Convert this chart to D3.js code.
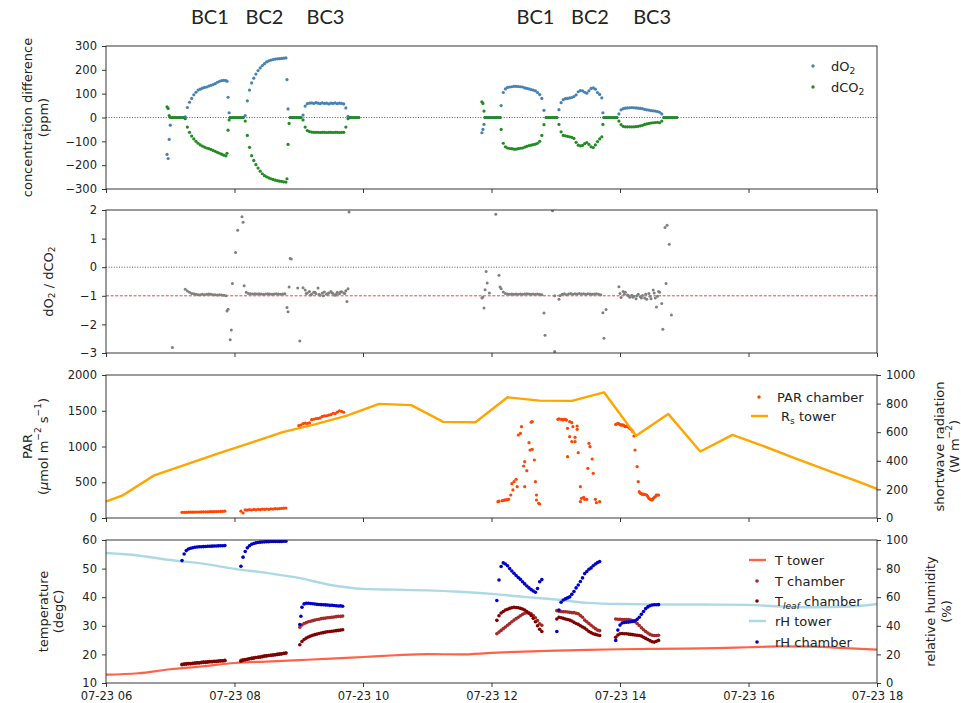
<!DOCTYPE html>
<html>
<head>
<meta charset="utf-8">
<script src="https://cdn.jsdelivr.net/npm/d3@7"></script>
<style>
  body { margin: 0; background: #fff; }
  text { font-family: "DejaVu Sans", sans-serif; fill: #222; }
</style>
</head>
<body>
<script>
// segments are [start "HH:MM", step in minutes, values]
var dO2 = [
  ["06:57", 1, [-155, -172, -92, -32]],
  ["07:01", 2, [0, 0, 0, 0, 0, 0, 0]],
  ["07:14", 2, [3, 42, 64, 80, 95, 106, 115, 119, 123, 126, 128, 132, 135, 138, 142, 148, 152, 155, 156, 155]],
  ["07:53", 1, [152, 85, 20]],
  ["07:56", 2, [0, 0, 0, 0, 0, 0, 0]],
  ["08:10", 2, [8, 70, 115, 145, 165, 182, 197, 208, 218, 226, 233, 238, 241, 243, 245, 246, 247, 248, 249, 250]],
  ["08:49", 1, [159, 36]],
  ["08:52", 2, [0, 0, 0, 0, 0, 0]],
  ["09:04", 2, [10, 48, 58, 60, 61, 59, 62, 60, 58, 61, 59, 60, 57, 60, 59, 61, 58, 60, 59, 57, 40]],
  ["09:46", 2, [5, 0, 0, 0, 0, 0]],
  ["11:51", 1, [-64, -50, -29]],
  ["11:54", 2, [0, 0, 0, 0, 0, 0, 0, 0]],
  ["12:09", 2, [50, 105, 120, 126, 128, 129, 131, 131, 130, 129, 128, 124, 122, 120, 117, 115, 112, 105, 96, 80, 30]],
  ["12:51", 2, [0, 0, 0, 0, 0, 0]],
  ["13:03", 2, [33, 62, 75, 79, 80, 82, 84, 88, 95, 108, 113, 112, 106, 102, 112, 122, 124, 119, 105, 97, 82]],
  ["13:44", 1, [20]],
  ["13:45", 2, [0, 0, 0, 0, 0, 0, 0]],
  ["13:59", 2, [15, 32, 37, 39, 40, 41, 42, 41, 40, 39, 38, 37, 34, 32, 31, 29, 28, 27, 25, 22, 15]],
  ["14:41", 2, [0, 0, 0, 0, 0, 0, 0]]
];
var dCO2 = [
  ["06:57", 1, [45, 38, 8]],
  ["07:00", 2, [0, 0, 0, 0, 0, 0, 0]],
  ["07:14", 2, [-5, -40, -62, -78, -90, -100, -108, -115, -120, -124, -128, -131, -134, -138, -142, -146, -150, -154, -158, -161]],
  ["07:53", 1, [-150, -53, -10]],
  ["07:56", 2, [0, 0, 0, 0, 0, 0, 0]],
  ["08:10", 2, [-15, -75, -125, -160, -180, -198, -212, -225, -236, -244, -249, -253, -257, -260, -263, -265, -267, -268, -270, -271]],
  ["08:49", 1, [-257, -113, -25]],
  ["08:52", 2, [0, 0, 0, 0, 0, 0]],
  ["09:04", 2, [-10, -40, -55, -59, -61, -62, -62, -62, -63, -62, -62, -63, -62, -62, -63, -62, -62, -63, -62, -62, -40]],
  ["09:46", 2, [-5, 0, 0, 0, 0, 0]],
  ["11:51", 1, [66, 59, 27]],
  ["11:54", 2, [0, 0, 0, 0, 0, 0, 0, 0]],
  ["12:09", 2, [-50, -108, -123, -128, -130, -131, -133, -133, -131, -129, -128, -124, -121, -118, -116, -114, -112, -108, -100, -75, -30]],
  ["12:51", 2, [0, 0, 0, 0, 0, 0]],
  ["13:03", 2, [-29, -60, -75, -77, -79, -81, -83, -88, -104, -116, -119, -117, -110, -105, -113, -123, -126, -115, -101, -90, -81]],
  ["13:44", 1, [-29]],
  ["13:45", 2, [0, 0, 0, 0, 0, 0, 0]],
  ["13:59", 2, [-15, -30, -37, -39, -39, -39, -39, -39, -38, -37, -35, -33, -29, -27, -25, -23, -22, -21, -20, -22, -15]],
  ["14:41", 2, [0, 0, 0, 0, 0, 0, 0]]
];

var ratioRuns = [
  ["07:14", 2, [-0.77, -0.83, -0.88, -0.92, -0.93, -0.95, -0.96, -0.96, -0.95, -0.96, -0.95, -0.94, -0.95, -0.96, -0.96, -0.97, -0.96, -0.97, -0.98, -1.0]],
  ["08:11", 2, [-0.88, -0.92, -0.93, -0.94, -0.93, -0.94, -0.93, -0.94, -0.95, -0.94, -0.93, -0.94, -0.95, -0.94, -0.93, -0.94, -0.95, -0.94, -0.93]],
  ["09:06", 2, [-0.80, -0.90, -0.85, -0.95, -0.88, -0.92, -0.73, -0.98, -0.90, -0.87, -0.95, -0.90, -0.85, -0.92, -0.98, -0.88, -0.93, -0.86, -0.90, -0.82]],
  ["09:07", 4, [-0.92, -0.97, -0.88, -0.95, -1.0, -0.93, -0.90, -0.95, -0.87, -0.92]],
  ["12:11", 2, [-0.87, -0.92, -0.94, -0.95, -0.94, -0.95, -0.94, -0.95, -0.94, -0.95, -0.94, -0.93, -0.94, -0.95, -0.94, -0.95, -0.94, -0.95, -0.96]],
  ["13:04", 2, [-0.99, -0.95, -0.93, -0.96, -0.94, -0.92, -0.95, -0.93, -0.94, -0.92, -0.94, -0.93, -0.95, -0.93, -0.94, -0.95, -0.94, -0.93, -0.95, -0.96]],
  ["13:59", 2, [-0.68, -1.06, -0.85, -0.88, -0.97, -1.05, -0.98, -1.02, -1.10, -0.95, -1.03, -0.99, -1.08, -1.12, -0.92, -1.10, -0.80, -1.08, -1.02, -0.88, -1.27]],
  ["14:00", 4, [-0.92, -0.95, -1.0, -1.05, -1.0, -1.08, -0.95, -1.02, -0.90, -0.85]]
];
var ratioOutliers = [
  ["07:02", -2.81], ["07:53", -1.53], ["07:54", -1.47], ["07:56", -2.54], ["07:57", -2.2], ["07:58", -0.57],
  ["08:01", 0.51], ["08:03", 1.29], ["08:07", 1.76], ["08:08", 1.57], ["08:09", -0.65],
  ["08:49", -1.41], ["08:50", -1.56], ["08:51", -0.69], ["08:52", 0.30], ["08:53", 0.29], ["08:59", -0.73],
  ["09:01", -2.58], ["09:04", -0.72], ["09:45", -1.2], ["09:46", -0.75], ["09:47", 1.93],
  ["11:51", -1.08], ["11:52", -1.04], ["11:53", -1.43], ["11:54", -0.79], ["11:55", -0.15], ["11:56", -0.55],
  ["11:58", -0.90], ["12:04", 1.85], ["12:07", -0.28], ["12:08", -0.69], ["12:09", -0.75],
  ["12:49", -1.6], ["12:50", -2.38], ["12:57", 1.97], ["12:59", -1.0], ["12:59", -2.95], ["13:03", -1.12],
  ["13:44", -1.59], ["13:45", -2.48], ["13:47", -1.48],
  ["14:34", -1.39], ["14:40", -2.17], ["14:42", 1.39], ["14:43", -0.57], ["14:44", 1.47], ["14:46", 0.80], ["14:48", -1.67]
];

var parRuns = [
  ["07:11", 2, [79, 80, 80, 81, 82, 82, 83, 84, 84, 85, 86, 86, 87, 88, 88, 89, 90, 91, 92, 93, 95]],
  ["08:06", 2, [95, 70, 115, 110, 118, 112, 120, 115, 122, 118, 125, 120, 126, 122, 128, 125, 130, 128, 132, 135, 138, 140]],
  ["09:00", 2, [1293, 1300, 1320, 1326, 1322, 1330, 1375, 1381, 1390, 1393, 1400, 1420, 1428, 1430, 1440, 1445, 1465, 1460, 1480, 1500, 1490, 1479]]
];
var parPoints = [
  ["12:06", 228], ["12:07", 235], ["12:10", 242], ["12:11", 245], ["12:12", 250], ["12:13", 252], ["12:14", 255],
  ["12:15", 258], ["12:16", 261], ["12:18", 322], ["12:19", 480], ["12:20", 392], ["12:21", 508], ["12:23", 541],
  ["12:24", 438], ["12:25", 1161], ["12:27", 1184], ["12:28", 1277], ["12:30", 727], ["12:31", 788], ["12:31", 438],
  ["12:33", 662], ["12:35", 1053], ["12:36", 951], ["12:37", 1340], ["12:38", 1347], ["12:38", 960], ["12:40", 811],
  ["12:41", 508], ["12:42", 322], ["12:42", 252], ["12:44", 206], ["12:45", 196],
  ["13:02", 1380], ["13:03", 1385], ["13:05", 1380], ["13:06", 1375], ["13:07", 1371], ["13:08", 1378], ["13:09", 1380],
  ["13:10", 1370], ["13:11", 1254], ["13:11", 857], ["13:13", 1137], ["13:13", 1347], ["13:15", 1333], ["13:15", 1067],
  ["13:16", 1277], ["13:18", 1067], ["13:18", 1128], ["13:20", 1287], ["13:20", 1240], ["13:21", 913], ["13:23", 438],
  ["13:23", 228], ["13:24", 275], ["13:26", 289], ["13:27", 261], ["13:29", 261], ["13:30", 695], ["13:31", 1044],
  ["13:32", 997], ["13:34", 825], ["13:35", 625], ["13:37", 261], ["13:38", 214], ["13:41", 228],
  ["13:56", 1310], ["13:57", 1315], ["13:58", 1324], ["13:59", 1318], ["14:00", 1305], ["14:01", 1300], ["14:02", 1302],
  ["14:03", 1300], ["14:04", 1290], ["14:05", 1277], ["14:06", 1282], ["14:07", 1287], ["14:08", 1270], ["14:09", 1254],
  ["14:10", 1245], ["14:11", 1231], ["14:12", 1207], ["14:13", 1147], ["14:14", 951], ["14:16", 718], ["14:17", 508],
  ["14:18", 368], ["14:19", 345], ["14:20", 340], ["14:21", 330], ["14:22", 336], ["14:23", 330], ["14:24", 325],
  ["14:25", 322], ["14:26", 300], ["14:27", 275], ["14:28", 265], ["14:29", 258], ["14:30", 252], ["14:31", 270],
  ["14:32", 289], ["14:33", 300], ["14:34", 322], ["14:35", 320], ["14:36", 322]
];
var rsTower = [
  ["05:45", 30, [76, 156, 298, 375, 452, 525, 600, 655, 716, 798, 789, 672, 670, 844, 821, 819, 879, 575, 728, 465, 581, 500, 414, 330, 247, 160]]
];

var tTower = [
  ["06:00", 30, [12.9, 13.4, 14.8, 15.8, 17.0, 17.5, 18.0, 18.5, 19.1, 19.7, 20.1, 20.0, 20.5, 21.0, 21.3, 21.6, 21.8, 21.9, 22.0, 22.2, 22.5, 22.8, 22.7, 22.2, 21.7]]
];
var rhTower = [
  ["06:00", 30, [90.9, 89.2, 86.0, 83.5, 79.8, 77.0, 73.5, 68.5, 65.8, 65.3, 64.8, 63.8, 62.3, 60.2, 58.4, 56.0, 55.2, 55.0, 54.9, 54.8, 54.6, 53.5, 53.0, 53.3, 55.3]]
];
var tChamber = [
  ["07:11", 2, [16.4, 16.5, 16.6, 16.7, 16.7, 16.8, 16.9, 17.0, 17.0, 17.1, 17.2, 17.2, 17.3, 17.4, 17.4, 17.5, 17.5, 17.6, 17.7, 17.7, 17.8]],
  ["08:06", 2, [17.9, 18.0, 18.2, 18.3, 18.5, 18.6, 18.8, 18.9, 19.0, 19.1, 19.3, 19.4, 19.5, 19.6, 19.7, 19.8, 19.9, 20.0, 20.1, 20.2, 20.3, 20.5]],
  ["09:01", 2, [29.5, 30.3, 30.8, 31.1, 31.4, 31.6, 31.8, 32.0, 32.2, 32.3, 32.5, 32.6, 32.7, 32.8, 32.9, 33.0, 33.1, 33.2, 33.3, 33.3, 33.4]],
  ["12:05", 2, [27.2, 27.8, 28.4, 29.0, 29.6, 30.2, 30.8, 31.4, 32.0, 32.5, 33.0, 33.5, 34.0, 34.4, 34.6, 34.5, 34.2, 33.6, 32.8, 31.8, 30.7, 30.2]],
  ["13:01", 2, [35.3, 35.1, 35.0, 34.9, 34.9, 34.8, 34.7, 34.6, 34.6, 34.4, 34.2, 33.6, 33.0, 32.0, 31.4, 30.8, 30.2, 29.6, 29.0, 28.5, 28.3]],
  ["13:56", 2, [32.4, 32.3, 32.3, 32.2, 32.2, 32.2, 32.2, 32.0, 31.8, 31.4, 30.8, 30.1, 29.3, 28.6, 28.0, 27.5, 27.0, 26.7, 26.6, 26.6, 26.7]]
];
var tLeaf = [
  ["07:11", 2, [16.5, 16.6, 16.7, 16.8, 16.8, 16.9, 17.0, 17.1, 17.1, 17.2, 17.3, 17.3, 17.4, 17.5, 17.5, 17.6, 17.6, 17.7, 17.8, 17.8, 17.9]],
  ["08:06", 2, [17.6, 18.0, 18.1, 18.3, 18.5, 18.6, 18.7, 18.9, 19.0, 19.1, 19.2, 19.4, 19.5, 19.6, 19.7, 19.8, 19.9, 20.0, 20.1, 20.2, 20.4, 20.5]],
  ["09:01", 2, [23.4, 24.5, 25.2, 25.7, 26.1, 26.4, 26.7, 26.9, 27.1, 27.3, 27.5, 27.6, 27.8, 27.9, 28.0, 28.1, 28.2, 28.3, 28.4, 28.5, 28.6]],
  ["12:05", 2, [31.9, 33.5, 34.5, 35.0, 35.5, 35.8, 36.1, 36.3, 36.5, 36.4, 36.3, 36.1, 35.9, 35.5, 35.0, 34.4, 33.6, 32.6, 31.4, 30.0, 28.8, 28.0]],
  ["13:01", 2, [32.4, 33.0, 32.8, 32.6, 32.4, 32.2, 32.0, 31.7, 31.2, 30.8, 30.5, 30.0, 29.6, 29.2, 28.6, 28.0, 27.6, 27.2, 27.0, 26.8, 26.6]],
  ["13:56", 2, [26.0, 26.8, 27.2, 27.3, 27.2, 27.2, 27.1, 27.0, 26.9, 26.8, 26.7, 26.6, 26.4, 26.0, 25.6, 25.2, 24.8, 24.4, 24.3, 24.6, 24.9]]
];
var rhChamber = [
  ["07:11", 2, [85.6, 90.2, 92.6, 93.7, 94.2, 94.6, 94.9, 95.1, 95.3, 95.3, 95.4, 95.5, 95.6, 95.6, 95.7, 95.8, 95.8, 95.9, 96.0, 96.0, 96.1]],
  ["08:06", 2, [81.6, 88, 92, 94.5, 96, 97, 97.6, 98, 98.3, 98.5, 98.6, 98.7, 98.8, 98.8, 98.9, 98.9, 99, 99, 99, 99, 99.1, 99.1]],
  ["09:01", 1, [40.9, 46.7]],
  ["09:03", 2, [53, 55.3, 55.8, 55.8, 55.6, 55.4, 55.2, 55, 54.9, 54.8, 54.7, 54.6, 54.5, 54.3, 54.4, 54.2, 54.0, 53.8, 53.9, 53.7]],
  ["12:05", 2, [57.7, 72, 81.5, 84, 83.2, 82, 80, 78.3, 76.8, 75.2, 73.8, 72.5, 70.8, 69.3, 67.8, 66.5, 65.3, 64.3, 63.5, 66, 70.8, 72.3]],
  ["13:01", 2, [36, 51, 56.5, 58, 58.8, 59.5, 60.2, 62, 64, 66.5, 68.5, 71, 73.5, 76.5, 78, 79.5, 80.5, 82, 83.2, 84.2, 84.9]],
  ["13:56", 2, [29.8, 37, 40.5, 42, 42.3, 42.5, 42.6, 42.8, 43, 43.5, 44.5, 46, 48, 50, 52, 53.2, 54, 54.5, 54.7, 54.7, 54.8]]
];

var timeTicks = ["06:00", "08:00", "10:00", "12:00", "14:00", "16:00", "18:00"];
var bcLabels = [["BC1", "07:37"], ["BC2", "08:28"], ["BC3", "09:25"], ["BC1", "12:41"], ["BC2", "13:32"], ["BC3", "14:30"]];

function parseT(s) {
  var p = s.split(":");
  return new Date(2019, 6, 23, +p[0], +p[1]);
}
function expand(segs) {
  var out = [];
  segs.forEach(function(s) {
    var t0 = parseT(s[0]).getTime();
    s[2].forEach(function(v, i) { out.push({t: new Date(t0 + i * s[1] * 60000), v: v}); });
  });
  return out;
}
function pairs(list) {
  return list.map(function(d) { return {t: parseT(d[0]), v: d[1]}; });
}

// rich text: parts = [text, kind] where kind is sub / sup / it / subit
function rich(sel, parts, fs) {
  var cur = 0;
  parts.forEach(function(p) {
    var k = p[1] || "";
    var target = k.indexOf("sub") == 0 ? 0.28 * fs : (k == "sup" ? -0.42 * fs : 0);
    var ts = sel.append("tspan").text(p[0]).attr("dy", target - cur);
    cur = target;
    if (k && k != "it") ts.attr("font-size", fs * 0.7);
    if (k.indexOf("it") >= 0) ts.attr("font-style", "italic");
  });
}

var W = 961, H = 703;
var X0 = 106, X1 = 877;
var svg = d3.select("body").append("svg").attr("width", W).attr("height", H);

var x = d3.scaleTime().domain([parseT("06:00"), parseT("18:00")]).range([X0, X1]);
var tickDates = timeTicks.map(parseT);
var num = d3.format("d");

var panels = [{top: 46, bot: 189}, {top: 210, bot: 353}, {top: 375, bot: 518}, {top: 540, bot: 683}];
var TICK_FS = 11.5, LAB_FS = 13;

function setupPanel(i, domain, ticks, labelled) {
  var p = panels[i];
  var y = d3.scaleLinear().domain(domain).range([p.bot, p.top]);
  svg.append("clipPath").attr("id", "clip" + i)
    .append("rect").attr("x", X0).attr("y", p.top).attr("width", X1 - X0).attr("height", p.bot - p.top);
  var ax = svg.append("g").attr("transform", "translate(" + X0 + ",0)")
    .call(d3.axisLeft(y).tickValues(ticks).tickFormat(num).tickSize(4).tickPadding(5));
  styleAxis(ax);
  var bx = svg.append("g").attr("transform", "translate(0," + p.bot + ")")
    .call(d3.axisBottom(x).tickValues(tickDates).tickSize(4).tickPadding(5)
      .tickFormat(labelled ? d3.timeFormat("%m-%d %H") : function() { return ""; }));
  styleAxis(bx);
  var g = svg.append("g").attr("clip-path", "url(#clip" + i + ")");
  return {y: y, g: g, p: p};
}
function styleAxis(a) {
  a.attr("font-family", null).attr("font-size", null);
  a.select(".domain").remove();
  a.selectAll(".tick line").attr("stroke", "#222").attr("stroke-width", 0.9);
  a.selectAll(".tick text").style("font-family", "'DejaVu Sans', sans-serif")
    .style("font-size", TICK_FS + "px").attr("fill", "#222");
}
function frame(p) {
  svg.append("rect").attr("x", X0).attr("y", p.top).attr("width", X1 - X0).attr("height", p.bot - p.top)
    .attr("fill", "none").attr("stroke", "#222").attr("stroke-width", 0.9);
}
function dots(g, data, y, color, r) {
  g.append("g").selectAll("circle").data(data).enter().append("circle")
    .attr("cx", function(d) { return x(d.t); })
    .attr("cy", function(d) { return y(d.v); })
    .attr("r", r).attr("fill", color);
}
function hline(g, y, v, color, dash) {
  g.append("line").attr("x1", X0).attr("x2", X1).attr("y1", y(v)).attr("y2", y(v))
    .attr("stroke", color).attr("stroke-width", 0.8).attr("stroke-dasharray", dash);
}
function ylabel(xp, yc, lines, fs) {
  lines.forEach(function(parts, j) {
    var t = svg.append("text").attr("transform", "translate(" + xp[j] + "," + yc + ") rotate(-90)")
      .attr("text-anchor", "middle").attr("dominant-baseline", "central").attr("font-size", fs);
    rich(t, parts, fs);
  });
}
function legText(xp, yp, parts) {
  var t = svg.append("text").attr("x", xp).attr("y", yp + 4.6).attr("font-size", LAB_FS);
  rich(t, parts, LAB_FS);
}

// ---------- panel 1: concentration difference
var P1 = setupPanel(0, [-300, 300], [-300, -200, -100, 0, 100, 200, 300], false);
hline(P1.g, P1.y, 0, "#333", "1,1.6");
dots(P1.g, expand(dO2), P1.y, "#4682b4", 1.6);
dots(P1.g, expand(dCO2), P1.y, "#228b22", 1.6);
frame(P1.p);
ylabel([27, 43], (P1.p.top + P1.p.bot) / 2, [[["concentration difference"]], [["(ppm)"]]], LAB_FS);
svg.append("circle").attr("cx", 813).attr("cy", 66).attr("r", 1.7).attr("fill", "#4682b4");
svg.append("circle").attr("cx", 813).attr("cy", 87).attr("r", 1.7).attr("fill", "#228b22");
legText(831, 66, [["dO"], ["2", "sub"]]);
legText(831, 87, [["dCO"], ["2", "sub"]]);

// ---------- panel 2: ratio
var P2 = setupPanel(1, [-3, 2], [-3, -2, -1, 0, 1, 2], false);
hline(P2.g, P2.y, 0, "#333", "1,1.6");
hline(P2.g, P2.y, -1, "#cc2222", "3,1.6");
dots(P2.g, expand(ratioRuns).concat(pairs(ratioOutliers)), P2.y, "#808080", 1.5);
frame(P2.p);
ylabel([48], (P2.p.top + P2.p.bot) / 2, [[["dO"], ["2", "sub"], [" / dCO"], ["2", "sub"]]], LAB_FS);

// ---------- panel 3: PAR and shortwave radiation
var P3 = setupPanel(2, [0, 2000], [0, 500, 1000, 1500, 2000], false);
dots(P3.g, expand(parRuns).concat(pairs(parPoints)), P3.y, "#ff4500", 1.6);
var yRs = d3.scaleLinear().domain([0, 1000]).range([P3.p.bot, P3.p.top]);
P3.g.append("path").datum(expand(rsTower))
  .attr("d", d3.line().x(function(d) { return x(d.t); }).y(function(d) { return yRs(d.v); }))
  .attr("fill", "none").attr("stroke", "#ffa500").attr("stroke-width", 2.4).attr("stroke-linejoin", "round");
var ax3 = svg.append("g").attr("transform", "translate(" + X1 + ",0)")
  .call(d3.axisRight(yRs).tickValues([0, 200, 400, 600, 800, 1000]).tickFormat(num).tickSize(4).tickPadding(5));
styleAxis(ax3);
frame(P3.p);
ylabel([27, 43], (P3.p.top + P3.p.bot) / 2,
  [[["PAR"]], [["("], ["\u03bc", "it"], ["mol m"], ["\u22122", "sup"], [" s"], ["\u22121", "sup"], [")"]]], LAB_FS);
ylabel([939, 954], (P3.p.top + P3.p.bot) / 2,
  [[["shortwave radiation"]], [["(W m"], ["\u22122", "sup"], [")"]]], LAB_FS);
svg.append("circle").attr("cx", 759).attr("cy", 397).attr("r", 1.7).attr("fill", "#ff4500");
svg.append("line").attr("x1", 751).attr("x2", 768).attr("y1", 416).attr("y2", 416)
  .attr("stroke", "#ffa500").attr("stroke-width", 2.4);
legText(777, 397, [["PAR chamber"]]);
legText(781, 416, [["R"], ["s", "sub"], [" tower"]]);

// ---------- panel 4: temperature and humidity
var P4 = setupPanel(3, [10, 60], [10, 20, 30, 40, 50, 60], true);
var yRh = d3.scaleLinear().domain([0, 100]).range([P4.p.bot, P4.p.top]);
P4.g.append("path").datum(expand(tTower))
  .attr("d", d3.line().curve(d3.curveMonotoneX).x(function(d) { return x(d.t); }).y(function(d) { return P4.y(d.v); }))
  .attr("fill", "none").attr("stroke", "#ff6347").attr("stroke-width", 2.2);
dots(P4.g, expand(tChamber), P4.y, "#a52a2a", 1.8);
dots(P4.g, expand(tLeaf), P4.y, "#800000", 1.8);
P4.g.append("path").datum(expand(rhTower))
  .attr("d", d3.line().curve(d3.curveMonotoneX).x(function(d) { return x(d.t); }).y(function(d) { return yRh(d.v); }))
  .attr("fill", "none").attr("stroke", "#add8e6").attr("stroke-width", 2.4);
dots(P4.g, expand(rhChamber), yRh, "#0000cd", 1.8);
var ax4 = svg.append("g").attr("transform", "translate(" + X1 + ",0)")
  .call(d3.axisRight(yRh).tickValues([0, 20, 40, 60, 80, 100]).tickFormat(num).tickSize(4).tickPadding(5));
styleAxis(ax4);
frame(P4.p);
ylabel([43, 58], (P4.p.top + P4.p.bot) / 2, [[["temperature"]], [["(degC)"]]], LAB_FS);
ylabel([930, 946], (P4.p.top + P4.p.bot) / 2, [[["relative humidity"]], [["(%)"]]], LAB_FS);

var leg4 = [
  {y: 560, kind: "line", color: "#ff6347", parts: [["T tower"]]},
  {y: 581, kind: "dot", color: "#a52a2a", parts: [["T chamber"]]},
  {y: 601, kind: "dot", color: "#800000", parts: [["T"], ["leaf", "subit"], [" chamber"]]},
  {y: 621, kind: "line", color: "#add8e6", parts: [["rH tower"]]},
  {y: 642, kind: "dot", color: "#0000cd", parts: [["rH chamber"]]}
];
leg4.forEach(function(d) {
  if (d.kind == "line") {
    svg.append("line").attr("x1", 749).attr("x2", 766).attr("y1", d.y).attr("y2", d.y)
      .attr("stroke", d.color).attr("stroke-width", 2.4);
  } else {
    svg.append("circle").attr("cx", 757).attr("cy", d.y).attr("r", 1.8).attr("fill", d.color);
  }
  legText(775, d.y, d.parts);
});

// BC labels above the top panel
svg.append("g").selectAll("text").data(bcLabels).enter().append("text")
  .attr("x", function(d) { return x(parseT(d[1])); })
  .attr("y", 24)
  .attr("text-anchor", "middle")
  .style("font-family", "Lato, 'Open Sans', sans-serif")
  .attr("font-size", 20)
  .attr("fill", "#111")
  .text(function(d) { return d[0]; });
</script>
</body>
</html>
